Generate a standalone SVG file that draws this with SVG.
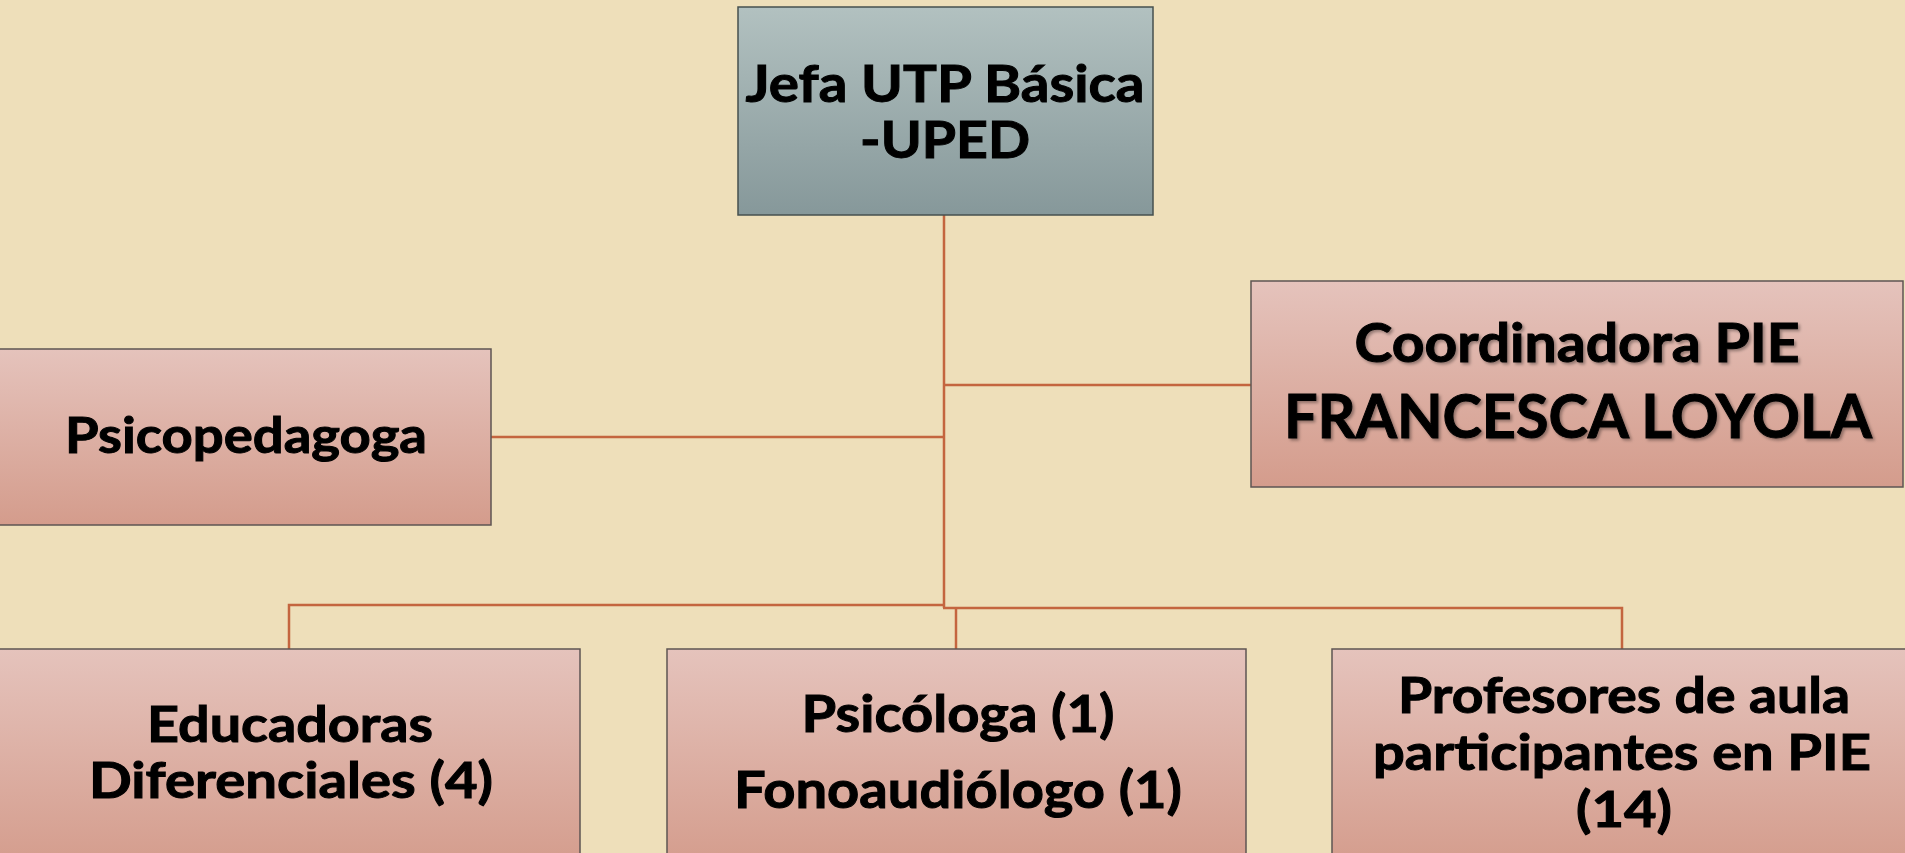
<svg xmlns="http://www.w3.org/2000/svg" width="1905" height="853" viewBox="0 0 1905 853">
<defs>
<linearGradient id="gGrey" x1="0" y1="0" x2="0" y2="1">
<stop offset="0" stop-color="#B2C1C0"/>
<stop offset="1" stop-color="#86989A"/>
</linearGradient>
<linearGradient id="gPink" x1="0" y1="0" x2="0" y2="1">
<stop offset="0" stop-color="#E5C3BC"/>
<stop offset="1" stop-color="#D49C8C"/>
</linearGradient>
<filter id="sh" x="-5%" y="-20%" width="110%" height="140%">
<feDropShadow dx="2" dy="2" stdDeviation="1.5" flood-color="#000" flood-opacity="0.35"/>
</filter>
<style>
.box{stroke:#5E5553;stroke-width:1.5}
.grey{fill:url(#gGrey);stroke:#46504F}
.pink{fill:url(#gPink)}
.t{font-family:Lato,"Open Sans","Liberation Sans",sans-serif;font-weight:700;fill:#000;stroke:#000;stroke-width:1;text-anchor:middle}
.c{fill:none;stroke:#C4653F;stroke-width:2.5}
</style>
</defs>
<rect x="0" y="0" width="1905" height="853" fill="#EEDFBA"/>
<g id="connectors">
<path class="c" d="M944 215 V608"/>
<path class="c" d="M944 385 H1251"/>
<path class="c" d="M491 437 H944"/>
<path class="c" d="M945 605 H289 V649"/>
<path class="c" d="M943 608 H1622 V649"/>
<path class="c" d="M956 608 V649"/>
</g>
<g id="jefa">
<rect class="box grey" x="738" y="7" width="415" height="208"/>
<text class="t" x="945" y="102" font-size="51" textLength="399" lengthAdjust="spacingAndGlyphs">Jefa UTP Básica</text>
<text class="t" x="945" y="158" font-size="51" textLength="170" lengthAdjust="spacingAndGlyphs">-UPED</text>
</g>
<g id="coordinadora">
<rect class="box pink" x="1251" y="281" width="652" height="206"/>
<g filter="url(#sh)">
<text class="t" x="1577" y="362" font-size="53" textLength="445" lengthAdjust="spacingAndGlyphs">Coordinadora PIE</text>
<text class="t" x="1578" y="438" font-size="61" textLength="588" lengthAdjust="spacingAndGlyphs">FRANCESCA LOYOLA</text>
</g>
</g>
<g id="psicopedagoga">
<rect class="box pink" x="-1" y="349" width="492" height="176"/>
<text class="t" x="246" y="453" font-size="50" textLength="362" lengthAdjust="spacingAndGlyphs">Psicopedagoga</text>
</g>
<g id="educadoras">
<rect class="box pink" x="-1" y="649" width="581" height="220"/>
<text class="t" x="290" y="742" font-size="49" textLength="286" lengthAdjust="spacingAndGlyphs">Educadoras</text>
<text class="t" x="291" y="798" font-size="49" textLength="404" lengthAdjust="spacingAndGlyphs">Diferenciales (4)</text>
</g>
<g id="psicologa">
<rect class="box pink" x="667" y="649" width="579" height="220"/>
<text class="t" x="958" y="732" font-size="52" textLength="313" lengthAdjust="spacingAndGlyphs">Psicóloga (1)</text>
<text class="t" x="958" y="808" font-size="52" textLength="448" lengthAdjust="spacingAndGlyphs">Fonoaudiólogo (1)</text>
</g>
<g id="profesores">
<rect class="box pink" x="1332" y="649" width="590" height="220"/>
<text class="t" x="1624" y="713" font-size="49" textLength="452" lengthAdjust="spacingAndGlyphs">Profesores de aula</text>
<text class="t" x="1622" y="770" font-size="49" textLength="498" lengthAdjust="spacingAndGlyphs">participantes en PIE</text>
<text class="t" x="1624" y="827" font-size="49" textLength="96" lengthAdjust="spacingAndGlyphs">(14)</text>
</g>
</svg>
